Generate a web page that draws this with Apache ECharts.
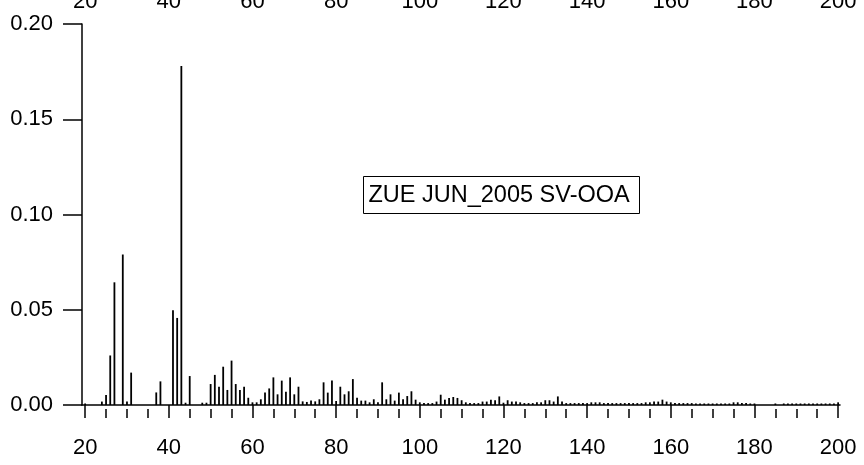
<!DOCTYPE html>
<html>
<head>
<meta charset="utf-8">
<script src="https://cdn.jsdelivr.net/npm/echarts@6/dist/echarts.min.js"></script>
<style>
  html, body { margin: 0; padding: 0; background: #fff; }
  #chart { width: 864px; height: 465px; }
</style>
</head>
<body>
<div id="chart"></div>
<script>
// Unit-mass spectrum: m/z and fractional signal of each stick
const mz = [
  20, 24, 25, 26, 27, 29, 30, 31, 37, 38,
  41, 42, 43, 44, 45, 48, 49, 50, 51, 52,
  53, 54, 55, 56, 57, 58, 59, 60, 61, 62,
  63, 64, 65, 66, 67, 68, 69, 70, 71, 72,
  73, 74, 75, 76, 77, 78, 79, 80, 81, 82,
  83, 84, 85, 86, 87, 88, 89, 90, 91, 92,
  93, 94, 95, 96, 97, 98, 99, 100, 101, 102,
  103, 104, 105, 106, 107, 108, 109, 110, 111, 112,
  113, 114, 115, 116, 117, 118, 119, 120, 121, 122,
  123, 124, 125, 126, 127, 128, 129, 130, 131, 132,
  133, 134, 135, 136, 137, 138, 139, 140, 141, 142,
  143, 144, 145, 146, 147, 148, 149, 150, 151, 152,
  153, 154, 155, 156, 157, 158, 159, 160, 161, 162,
  163, 164, 165, 166, 167, 168, 169, 170, 171, 172,
  173, 174, 175, 176, 177, 178, 179, 180, 185, 187,
  188, 189, 190, 191, 192, 193, 194, 195, 196, 197,
  198, 199, 200
];
const signal = [
  0.0008, 0.0018, 0.0052, 0.0260, 0.0644, 0.0790, 0.0018, 0.0170, 0.0066, 0.0124,
  0.0497, 0.0457, 0.1780, 0.0012, 0.0152, 0.0012, 0.0012, 0.0110, 0.0158, 0.0096,
  0.0201, 0.0079, 0.0233, 0.0110, 0.0079, 0.0096, 0.0038, 0.0014, 0.0014, 0.0030,
  0.0065, 0.0087, 0.0145, 0.0056, 0.0128, 0.0070, 0.0145, 0.0056, 0.0096, 0.0019,
  0.0016, 0.0023, 0.0019, 0.0030, 0.0119, 0.0065, 0.0128, 0.0021, 0.0096, 0.0056,
  0.0072, 0.0136, 0.0038, 0.0023, 0.0023, 0.0014, 0.0030, 0.0014, 0.0119, 0.0030,
  0.0056, 0.0023, 0.0065, 0.0030, 0.0047, 0.0072, 0.0028, 0.0014, 0.0010, 0.0010,
  0.0010, 0.0018, 0.0054, 0.0028, 0.0037, 0.0042, 0.0037, 0.0025, 0.0014, 0.0010,
  0.0010, 0.0010, 0.0018, 0.0018, 0.0028, 0.0025, 0.0045, 0.0012, 0.0025, 0.0018,
  0.0018, 0.0014, 0.0010, 0.0010, 0.0010, 0.0014, 0.0014, 0.0025, 0.0025, 0.0018,
  0.0045, 0.0018, 0.0010, 0.0010, 0.0010, 0.0010, 0.0010, 0.0010, 0.0014, 0.0014,
  0.0014, 0.0010, 0.0010, 0.0010, 0.0010, 0.0010, 0.0010, 0.0010, 0.0010, 0.0010,
  0.0010, 0.0014, 0.0014, 0.0018, 0.0018, 0.0028, 0.0018, 0.0014, 0.0010, 0.0010,
  0.0010, 0.0010, 0.0010, 0.0008, 0.0008, 0.0008, 0.0008, 0.0008, 0.0008, 0.0008,
  0.0008, 0.0008, 0.0014, 0.0014, 0.0010, 0.0010, 0.0008, 0.0008, 0.0008, 0.0008,
  0.0008, 0.0008, 0.0008, 0.0008, 0.0008, 0.0008, 0.0008, 0.0008, 0.0008, 0.0008,
  0.0008, 0.0008, 0.0014
];

// Axis ticks and labels
const xLabelValues = [20, 40, 60, 80, 100, 120, 140, 160, 180, 200];
const xMinorValues = [
  20, 25, 30, 35, 40, 45, 50, 55, 60, 65, 70, 75, 80, 85, 90, 95, 100,
  105, 110, 115, 120, 125, 130, 135, 140, 145, 150, 155, 160, 165, 170,
  175, 180, 185, 190, 195, 200
];
const annotation = 'ZUE JUN_2005 SV-OOA';

const FONT = '"Liberation Sans", Arial, Helvetica, sans-serif';
const X_MIN = 19.25, X_MAX = 200.45;

const chart = echarts.init(document.getElementById('chart'), null, { renderer: 'canvas' });

const sticks = mz.map((m, i) => [m, signal[i]]);

chart.setOption({
  animation: false,
  backgroundColor: '#fff',
  grid: { left: 82, right: 24, top: 24, bottom: 60, containLabel: false, outerBoundsMode: 'none' },
  xAxis: [
    {
      type: 'value', position: 'bottom', min: X_MIN, max: X_MAX, offset: 4,
      axisLine: { show: true, lineStyle: { color: '#000', width: 1.5 } },
      axisTick: { show: true, customValues: xLabelValues, length: 12, lineStyle: { color: '#000', width: 1.5 } },
      axisLabel: { show: true, customValues: xLabelValues, margin: 28, color: '#000', fontSize: 22, fontFamily: FONT },
      splitLine: { show: false }
    },
    {
      type: 'value', position: 'bottom', min: X_MIN, max: X_MAX, offset: 4,
      axisLine: { show: false },
      axisTick: { show: true, customValues: xMinorValues, length: 9, lineStyle: { color: '#000', width: 1.5 } },
      axisLabel: { show: false },
      splitLine: { show: false }
    },
    {
      type: 'value', position: 'top', min: X_MIN, max: X_MAX,
      axisLine: { show: false },
      axisTick: { show: false },
      axisLabel: { show: true, customValues: xLabelValues, margin: 11, color: '#000', fontSize: 22, fontFamily: FONT },
      splitLine: { show: false }
    }
  ],
  yAxis: {
    type: 'value', min: 0, max: 0.2, interval: 0.05,
    axisLine: { show: true, lineStyle: { color: '#000', width: 1.5 } },
    axisTick: { show: true, length: 19, lineStyle: { color: '#000', width: 1.5 } },
    axisLabel: {
      margin: 29, color: '#000', fontSize: 22, fontFamily: FONT,
      formatter: v => v.toFixed(2)
    },
    splitLine: { show: false }
  },
  series: [{
    type: 'bar',
    xAxisIndex: 0,
    data: sticks,
    barWidth: 1.8,
    itemStyle: { color: '#000' },
    silent: true
  }],
  graphic: [{
    type: 'group',
    left: 363, top: 176,
    children: [
      { type: 'rect', shape: { x: 0, y: 0, width: 276, height: 37 },
        style: { fill: '#fff', stroke: '#000', lineWidth: 1 } },
      { type: 'text', x: 5, y: 19,
        style: { text: annotation, fill: '#000', font: '23.5px ' + FONT, verticalAlign: 'middle', align: 'left' } }
    ]
  }]
});
</script>
</body>
</html>
